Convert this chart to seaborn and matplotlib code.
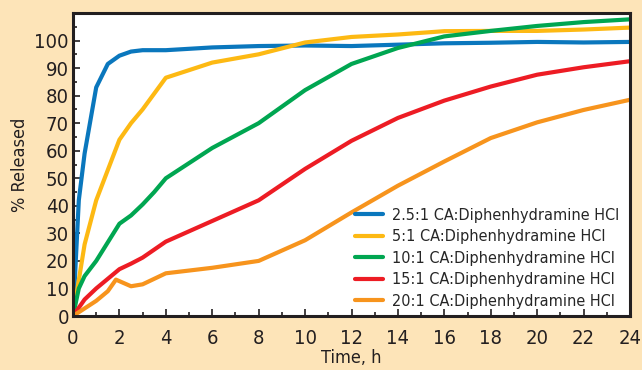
import pandas as pd
import matplotlib.pyplot as plt
import seaborn as sns
from matplotlib.ticker import MultipleLocator

# datos
t_blue = [0, 0.25, 0.5, 1, 1.5, 2, 2.5, 3, 4, 6, 8, 10, 12, 14, 16, 18, 20, 22, 24]
blue = [0, 42, 59, 83, 91.5, 94.5, 96, 96.5, 96.5, 97.5, 98, 98.2, 98, 98.5, 99, 99.2, 99.5, 99.3, 99.5]

t_yellow = [0, 0.5, 1, 2, 2.5, 3, 4, 6, 8, 10, 12, 14, 16, 18, 20, 22, 24]
yellow = [0, 26, 42, 64, 70, 75, 86.5, 92, 95, 99.3, 101.3, 102.2, 103.4, 103.5, 103.5, 104, 104.7]

t_green = [0, 0.25, 0.5, 1, 2, 2.5, 3, 3.5, 4, 6, 8, 10, 12, 14, 16, 18, 20, 22, 24]
green = [0, 10, 14.5, 20, 33.5, 36.5, 40.5, 45, 50, 61, 70, 82, 91.5, 97.3, 101.5, 103.5, 105.3, 106.7, 107.7]

t_red = [0, 0.5, 1, 2, 2.5, 3, 4, 6, 8, 10, 12, 14, 16, 18, 20, 22, 24]
red = [0, 6, 10, 17, 19, 21.2, 27, 34.5, 42, 53.4, 63.6, 71.9, 78.2, 83.3, 87.6, 90.3, 92.5]

t_orange = [0, 1, 1.5, 1.85, 2.5, 3, 4, 6, 8, 10, 12, 14, 16, 18, 20, 22, 24]
orange = [0, 5.5, 9, 13.2, 10.8, 11.5, 15.5, 17.5, 20, 27.5, 37.6, 47.3, 56.1, 64.6, 70.3, 74.8, 78.5]

etiquetas = ['2.5:1 CA:Diphenhydramine HCl', '5:1 CA:Diphenhydramine HCl',
             '10:1 CA:Diphenhydramine HCl', '15:1 CA:Diphenhydramine HCl',
             '20:1 CA:Diphenhydramine HCl']
colores = ['#0a77bd', '#fdb913', '#00a651', '#ed1c24', '#f7941d']

series = [(t_blue, blue), (t_yellow, yellow), (t_green, green), (t_red, red), (t_orange, orange)]
filas = []
for nombre, (tt, vv) in zip(etiquetas, series):
    for a, b in zip(tt, vv):
        filas.append({'Tiempo': a, 'Liberado': b, 'Serie': nombre})
datos = pd.DataFrame(filas)

sns.set_style('ticks')
plt.rcParams['font.family'] = ['DejaVu Sans']
plt.rcParams['font.stretch'] = 'condensed'  # letra estrecha como la original

fig = plt.figure(figsize=(6.42, 3.70), dpi=100, facecolor='#fde4b8')
ax = fig.add_axes([73/642, 54/370, 557/642, 303/370])
sns.lineplot(data=datos, x='Tiempo', y='Liberado', hue='Serie', hue_order=etiquetas,
             palette=colores, linewidth=3.0, sort=False, estimator=None, ax=ax)

ax.set_xlim(0, 24)
ax.set_ylim(0, 110)
ax.xaxis.set_major_locator(MultipleLocator(2))
ax.xaxis.set_minor_locator(MultipleLocator(1))
ax.yaxis.set_minor_locator(MultipleLocator(5))
ax.set_yticks(range(0, 101, 10))
ax.tick_params(which='both', direction='in', color='#231f20', width=1.2)
ax.tick_params(which='major', length=5, labelsize=14.5, labelcolor='#231f20', pad=3)
ax.tick_params(axis='x', which='major', pad=9)
ax.tick_params(which='minor', length=3)
for s in ax.spines.values():
    s.set_linewidth(2.2)
    s.set_color('#231f20')
ax.set_xlabel('Time, h', fontsize=13, color='#231f20', labelpad=1)
ax.set_ylabel('% Released', fontsize=13, color='#231f20', labelpad=4)

ley = ax.legend(loc='lower right', bbox_to_anchor=(0.993, 0.003), frameon=False,
                fontsize=11.6, handlelength=1.7, labelspacing=0.4, handletextpad=0.6,
                borderaxespad=0)
for l in ley.get_lines():
    l.set_linewidth(3.0)

plt.savefig('out.png', dpi=100, facecolor=fig.get_facecolor())
